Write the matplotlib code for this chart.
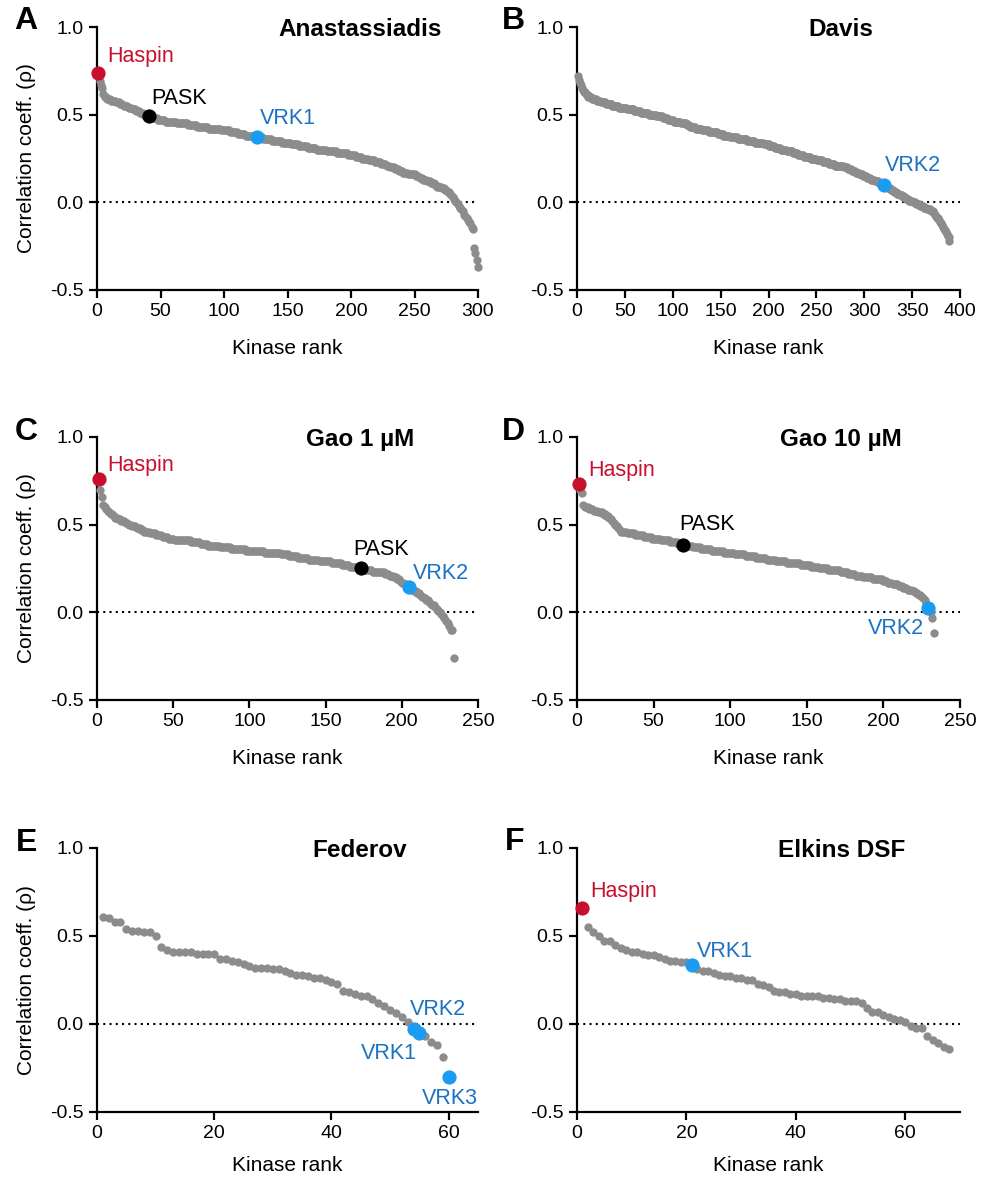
import matplotlib
matplotlib.use("Agg")
import matplotlib.pyplot as plt
import numpy as np

plt.rcParams['font.family'] = ['Liberation Sans', 'DejaVu Sans']

# ---------------- data (correlation coefficient by kinase rank, rank starts at 1) ----------------
anast_vals = [
 .74, .69, .67, .65, .62, .60, .60, .59, .59, .59,
 .58, .58, .58, .58, .57, .57, .57, .56, .56, .56,
 .55, .55, .55, .55, .54, .54, .54, .53, .53, .53,
 .52, .52, .52, .51, .51, .51, .50, .50, .50, .50,
 .494, .49, .49, .48, .48, .48, .48, .47, .47, .47,
 .47, .47, .47, .46, .46, .46, .46, .46, .46, .46,
 .46, .46, .45, .45, .45, .45, .45, .45, .45, .45,
 .45, .44, .44, .44, .44, .44, .44, .44, .43, .43,
 .43, .43, .43, .43, .43, .43, .43, .42, .42, .42,
 .42, .42, .42, .42, .42, .42, .42, .41, .41, .41,
 .41, .41, .41, .41, .40, .40, .40, .40, .40, .40,
 .39, .39, .39, .39, .39, .39, .38, .38, .38, .38,
 .38, .38, .38, .37, .37, .373, .37, .37, .37, .37,
 .36, .36, .36, .36, .36, .36, .36, .35, .35, .35,
 .35, .35, .35, .35, .35, .34, .34, .34, .34, .34,
 .34, .34, .33, .33, .33, .33, .33, .33, .32, .32,
 .32, .32, .32, .32, .32, .31, .31, .31, .31, .31,
 .31, .31, .30, .30, .30, .30, .30, .30, .30, .30,
 .29, .29, .29, .29, .29, .29, .29, .29, .28, .28,
 .28, .28, .28, .28, .28, .28, .28, .27, .27, .27,
 .27, .27, .27, .26, .26, .26, .26, .26, .25, .25,
 .25, .25, .25, .24, .24, .24, .24, .24, .23, .23,
 .23, .23, .23, .22, .22, .22, .22, .21, .21, .21,
 .20, .20, .20, .20, .19, .19, .19, .18, .18, .18,
 .17, .17, .17, .17, .16, .16, .16, .16, .16, .16,
 .15, .15, .15, .14, .14, .14, .13, .13, .13, .12,
 .12, .12, .11, .11, .11, .10, .10, .09, .09, .09,
 .09, .08, .08, .07, .07, .06, .06, .05, .04, .03,
 .02, .01, .00, -.01, -.02, -.03, -.04, -.05, -.07, -.08,
 -.09, -.10, -.11, -.12, -.14, -.15, -.26, -.29, -.33, -.37,
]
anast_hl = ['Haspin', 'PASK', 'VRK1']
anast_hl_rank = [1, 41, 126]

davis_vals = [
 .72, .70, .68, .67, .65, .64, .63, .63, .62, .61,
 .61, .60, .60, .60, .60, .59, .59, .59, .59, .59,
 .58, .58, .58, .58, .57, .57, .57, .57, .57, .56,
 .56, .56, .56, .56, .56, .56, .55, .55, .55, .55,
 .55, .55, .55, .54, .54, .54, .54, .54, .54, .54,
 .54, .53, .53, .53, .53, .53, .53, .53, .53, .52,
 .52, .52, .52, .52, .52, .52, .51, .51, .51, .51,
 .51, .51, .51, .51, .50, .50, .50, .50, .50, .50,
 .50, .50, .49, .49, .49, .49, .49, .49, .49, .48,
 .48, .48, .48, .48, .47, .47, .47, .47, .47, .47,
 .46, .46, .46, .46, .46, .46, .46, .46, .45, .45,
 .45, .45, .45, .45, .44, .44, .44, .43, .43, .43,
 .43, .43, .43, .42, .42, .42, .42, .42, .42, .42,
 .41, .41, .41, .41, .41, .41, .41, .40, .40, .40,
 .40, .40, .40, .40, .40, .40, .39, .39, .39, .39,
 .39, .39, .38, .38, .38, .38, .38, .38, .38, .37,
 .37, .37, .37, .37, .37, .37, .37, .36, .36, .36,
 .36, .36, .36, .36, .36, .36, .36, .35, .35, .35,
 .35, .35, .35, .35, .35, .34, .34, .34, .34, .34,
 .34, .34, .34, .34, .33, .33, .33, .33, .33, .33,
 .32, .32, .32, .32, .32, .32, .31, .31, .31, .31,
 .31, .31, .30, .30, .30, .30, .30, .30, .29, .29,
 .29, .29, .29, .29, .29, .28, .28, .28, .28, .28,
 .27, .27, .27, .27, .27, .27, .26, .26, .26, .26,
 .26, .26, .26, .25, .25, .25, .25, .25, .25, .25,
 .24, .24, .24, .24, .24, .24, .23, .23, .23, .23,
 .23, .23, .22, .22, .22, .22, .22, .22, .21, .21,
 .21, .21, .21, .21, .21, .21, .21, .21, .20, .20,
 .20, .20, .19, .19, .19, .19, .18, .18, .18, .18,
 .17, .17, .17, .17, .16, .16, .16, .16, .15, .15,
 .15, .15, .14, .14, .14, .14, .13, .13, .13, .13,
 .12, .12, .12, .12, .11, .11, .11, .11, .10, .10,
 .10, .09, .09, .09, .08, .08, .08, .07, .07, .07,
 .06, .06, .06, .05, .05, .05, .04, .04, .04, .03,
 .03, .03, .03, .02, .02, .02, .01, .01, .01, .01,
 .00, .00, .00, -.01, -.01, -.01, -.01, -.02, -.02, -.02,
 -.02, -.03, -.03, -.03, -.03, -.04, -.04, -.04, -.04, -.05,
 -.05, -.05, -.06, -.07, -.08, -.09, -.09, -.10, -.11, -.12,
 -.13, -.14, -.15, -.16, -.17, -.18, -.19, -.20, -.22,
]
davis_hl = ['VRK2']
davis_hl_rank = [321]

gao1_vals = [
 .76, .70, .66, .61, .60, .59, .58, .57, .56, .56,
 .55, .54, .54, .53, .53, .52, .52, .52, .51, .51,
 .50, .50, .49, .49, .49, .48, .48, .48, .47, .47,
 .46, .46, .46, .46, .45, .45, .45, .45, .44, .44,
 .44, .44, .43, .43, .43, .43, .42, .42, .42, .42,
 .41, .41, .41, .41, .41, .41, .41, .41, .41, .41,
 .41, .40, .40, .40, .40, .40, .40, .39, .39, .39,
 .39, .39, .38, .38, .38, .38, .38, .38, .38, .38,
 .37, .37, .37, .37, .37, .37, .37, .36, .36, .36,
 .36, .36, .36, .36, .36, .36, .36, .35, .35, .35,
 .35, .35, .35, .35, .35, .35, .35, .35, .35, .34,
 .34, .34, .34, .34, .34, .34, .34, .34, .34, .34,
 .33, .33, .33, .33, .33, .32, .32, .32, .32, .32,
 .32, .31, .31, .31, .31, .31, .31, .31, .30, .30,
 .30, .30, .30, .30, .30, .29, .29, .29, .29, .29,
 .29, .29, .29, .28, .28, .28, .28, .28, .28, .28,
 .27, .27, .27, .27, .27, .26, .26, .26, .26, .26,
 .25, .25, .25, .25, .24, .24, .24, .24, .24, .24,
 .23, .23, .23, .23, .23, .23, .23, .23, .22, .22,
 .22, .21, .21, .21, .20, .20, .19, .19, .18, .17,
 .17, .16, .16, .15, .144, .14, .13, .12, .12, .11,
 .11, .10, .09, .09, .08, .07, .07, .06, .05, .04,
 .04, .03, .02, .01, .00, -.01, -.02, -.03, -.05, -.06,
 -.08, -.10, -.10, -.26,
]
gao1_hl = ['Haspin', 'PASK', 'VRK2']
gao1_hl_rank = [1, 173, 205]

gao10_vals = [
 .73, .70, .68, .61, .60, .60, .60, .59, .59, .59,
 .58, .58, .58, .57, .57, .57, .56, .56, .55, .55,
 .54, .53, .52, .51, .50, .49, .48, .47, .46, .46,
 .46, .46, .45, .45, .45, .45, .45, .44, .44, .44,
 .44, .44, .44, .43, .43, .43, .43, .43, .42, .42,
 .42, .42, .42, .42, .41, .41, .41, .41, .41, .41,
 .40, .40, .40, .40, .40, .39, .39, .39, .386, .38,
 .38, .38, .38, .38, .38, .37, .37, .37, .37, .37,
 .36, .36, .36, .36, .36, .36, .36, .35, .35, .35,
 .35, .35, .35, .35, .35, .34, .34, .34, .34, .34,
 .34, .34, .33, .33, .33, .33, .33, .33, .33, .32,
 .32, .32, .32, .32, .32, .32, .31, .31, .31, .31,
 .31, .31, .31, .30, .30, .30, .30, .30, .30, .29,
 .29, .29, .29, .29, .29, .29, .28, .28, .28, .28,
 .28, .28, .28, .28, .28, .27, .27, .27, .27, .27,
 .27, .27, .26, .26, .26, .26, .26, .25, .25, .25,
 .25, .25, .25, .24, .24, .24, .24, .24, .24, .24,
 .24, .23, .23, .23, .23, .23, .22, .22, .22, .22,
 .22, .21, .21, .21, .21, .21, .20, .20, .20, .20,
 .20, .20, .19, .19, .19, .19, .19, .19, .19, .18,
 .18, .18, .17, .17, .17, .16, .16, .16, .16, .15,
 .15, .15, .14, .14, .14, .13, .13, .13, .12, .12,
 .11, .11, .10, .10, .09, .08, .07, .05, .025, .02,
 .00, -.035, -.12,
]
gao10_hl = ['Haspin', 'PASK', 'VRK2']
gao10_hl_rank = [1, 69, 229]

federov_vals = [
 .61, .60, .58, .58, .54, .53, .53, .52, .52, .50,
 .44, .42, .41, .41, .41, .41, .40, .40, .40, .40,
 .37, .37, .36, .35, .34, .33, .32, .32, .32, .31,
 .31, .30, .29, .28, .28, .27, .26, .26, .25, .24,
 .23, .19, .18, .17, .16, .16, .14, .12, .10, .08,
 .06, .04, .01, -.03, -.05, -.07, -.10, -.12, -.19, -.30,
]
federov_hl = ['VRK1', 'VRK2', 'VRK3']
federov_hl_rank = [54, 55, 60]

elkins_vals = [
 .66, .55, .52, .50, .47, .47, .45, .43, .42, .41,
 .41, .40, .39, .39, .38, .37, .36, .36, .35, .35,
 .334, .31, .30, .30, .29, .28, .27, .27, .26, .26,
 .25, .25, .23, .22, .21, .19, .18, .18, .17, .17,
 .16, .16, .16, .16, .15, .15, .14, .14, .13, .13,
 .13, .12, .09, .07, .07, .05, .04, .03, .02, .01,
 -.01, -.02, -.02, -.07, -.09, -.11, -.13, -.14,
]
elkins_hl = ['Haspin', 'VRK1']
elkins_hl_rank = [1, 21]

titles = ['Anastassiadis', 'Davis', 'Gao 1 µM', 'Gao 10 µM', 'Federov', 'Elkins DSF']
letters = ['A', 'B', 'C', 'D', 'E', 'F']
ytick_vals = [-0.5, 0.0, 0.5, 1.0]
ytick_labels = ['-0.5', '0.0', '0.5', '1.0']

# ---------------- style ----------------
GRAY = '#8c8c8c'
COL_MARK = {'Haspin': '#c8102e', 'PASK': '#000000', 'VRK1': '#1b9cf2', 'VRK2': '#1b9cf2', 'VRK3': '#1b9cf2'}
COL_TEXT = {'Haspin': '#c8102e', 'PASK': '#000000', 'VRK1': '#1b72c2', 'VRK2': '#1b72c2', 'VRK3': '#1b72c2'}

fig = plt.figure(figsize=(9.84, 11.77), dpi=100)

LX = [97 / 984, 577 / 984]
WX = [381 / 984, 383 / 984]
BY = [1 - 290 / 1177, 1 - 700 / 1177, 1 - 1112 / 1177]
HY = [263 / 1177, 263 / 1177, 264 / 1177]
XLAB_Y = [-0.185, -0.185, -0.165]

panels = [
    (anast_vals, anast_hl, anast_hl_rank, 300, [0, 50, 100, 150, 200, 250, 300],
     {'Haspin': (8, 0.83, 'left'), 'PASK': (43, 0.59, 'left'), 'VRK1': (128, 0.48, 'left')}),
    (davis_vals, davis_hl, davis_hl_rank, 400, [0, 50, 100, 150, 200, 250, 300, 350, 400],
     {'VRK2': (322, 0.21, 'left')}),
    (gao1_vals, gao1_hl, gao1_hl_rank, 250, [0, 50, 100, 150, 200, 250],
     {'Haspin': (6.5, 0.84, 'left'), 'PASK': (168, 0.36, 'left'), 'VRK2': (207.5, 0.22, 'left')}),
    (gao10_vals, gao10_hl, gao10_hl_rank, 250, [0, 50, 100, 150, 200, 250],
     {'Haspin': (7.4, 0.81, 'left'), 'PASK': (66.7, 0.50, 'left'), 'VRK2': (226.5, -0.095, 'right')}),
    (federov_vals, federov_hl, federov_hl_rank, 65, [0, 20, 40, 60],
     {'VRK2': (53.4, 0.08, 'left'), 'VRK1': (54.6, -0.165, 'right'), 'VRK3': (60.2, -0.425, 'center')}),
    (elkins_vals, elkins_hl, elkins_hl_rank, 70, [0, 20, 40, 60],
     {'Haspin': (2.5, 0.755, 'left'), 'VRK1': (21.9, 0.41, 'left')}),
]

letter_pos = [(26, 21), (513, 21), (26, 432), (513, 432), (27, 843), (515, 842)]

for i, (vals, hl, hl_rank, xmax, xticks, labpos) in enumerate(panels):
    r, c = divmod(i, 2)
    ax = fig.add_axes([LX[c], BY[r], WX[c], HY[r]])
    vals = np.asarray(vals, dtype=float)
    ranks = np.arange(1, len(vals) + 1)
    ax.scatter(ranks, vals, s=36, color=GRAY, linewidths=0, zorder=3, clip_on=False)
    for name, rk in zip(hl, hl_rank):
        ax.scatter([rk], [vals[rk - 1]], s=105, color=COL_MARK[name], linewidths=0,
                   zorder=5, clip_on=False)
        tx, ty, ha = labpos[name]
        ax.text(tx, ty, name, color=COL_TEXT[name], fontsize=15.5, ha=ha, va='center', zorder=6)
    ax.axhline(0, color='black', lw=1.5, ls=(0, (1, 2)), zorder=2)
    ax.set_xlim(0, xmax)
    ax.set_ylim(-0.5, 1.0)
    ax.set_xticks(xticks)
    ax.set_xticklabels([str(t) for t in xticks])
    ax.set_yticks(ytick_vals)
    ax.set_yticklabels(ytick_labels)
    for s in ['top', 'right']:
        ax.spines[s].set_visible(False)
    for s in ['left', 'bottom']:
        ax.spines[s].set_linewidth(1.6)
    ax.tick_params(axis='both', direction='out', length=5.5, width=1.6, labelsize=14, pad=4)
    ax.set_xlabel('Kinase rank', fontsize=15)
    ax.xaxis.set_label_coords(0.5, XLAB_Y[r])
    if c == 0:
        ax.set_ylabel('Correlation coeff. (ρ)', fontsize=15)
        ax.yaxis.set_label_coords(-0.16, 0.5)
    ax.text(0.69, 0.99, titles[i], transform=ax.transAxes, ha='center', va='center',
            fontsize=17.5, fontweight='bold')
    lx, ly = letter_pos[i]
    fig.text(lx / 984, 1 - ly / 1177, letters[i], fontsize=23, fontweight='bold',
             ha='center', va='center')

fig.savefig('out.png', dpi=100)
